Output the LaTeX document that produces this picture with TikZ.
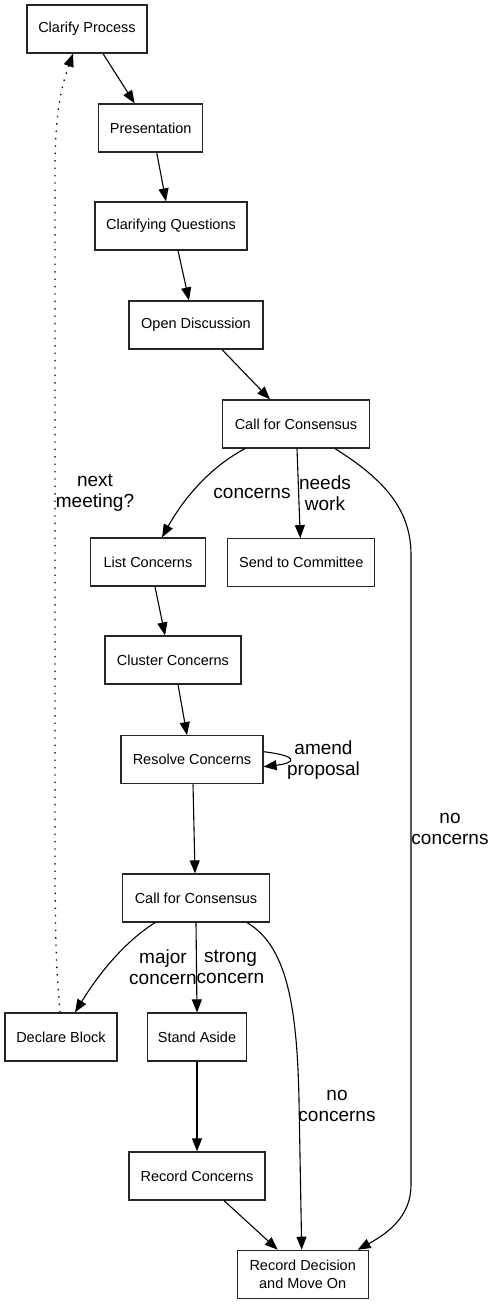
\documentclass[tikz,border=0pt]{standalone}
\usepackage{fontspec}
\setmainfont{Liberation Sans}
\usetikzlibrary{arrows.meta}
\begin{document}
\begin{tikzpicture}[x=1pt,y=-1pt,
  box/.style={draw=black!85,line width=1.2pt,minimum height=48pt,inner sep=2pt,align=center,
    font=\fontsize{14.5}{18.5}\selectfont},
  arr/.style={line width=1.1pt,-{Triangle[length=13pt,width=10pt]}},
  lab/.style={align=center,inner sep=0pt,font=\fontsize{19}{21}\selectfont}]
\useasboundingbox (0,0) rectangle (495,1304);
% nodes
\node[box,minimum width=120pt] (cp) at (87,29) {Clarify Process};
\node[box,minimum width=104pt] (pr) at (150.7,128) {Presentation};
\node[box,minimum width=152pt] (cq) at (171,226) {Clarifying Questions};
\node[box,minimum width=134pt] (od) at (196,325) {Open Discussion};
\node[box,minimum width=147pt] (ca) at (296,424) {Call for Consensus};
\node[box,minimum width=115pt] (lc) at (148,562) {List Concerns};
\node[box,minimum width=147pt] (sc) at (301.3,562.7) {Send to Committee};
\node[box,minimum width=136pt] (cc) at (173,660) {Cluster Concerns};
\node[box,minimum width=142pt] (rs) at (192,759.7) {Resolve Concerns};
\node[box,minimum width=147pt] (cb) at (196,898) {Call for Consensus};
\node[box,minimum width=112pt] (db) at (61,1037) {Declare Block};
\node[box,minimum width=99pt] (sa) at (197,1037) {Stand Aside};
\node[box,minimum width=136pt] (rc) at (197,1176) {Record Concerns};
\node[box,minimum width=131pt] (rd) at (302.7,1274.3) {Record Decision\\and Move On};
% edges
\draw[arr] ([xshift=16pt]cp.south) -- ([xshift=-16pt]pr.north);
\draw[arr] ([xshift=6pt]pr.south) -- ([xshift=-5pt]cq.north);
\draw[arr] ([xshift=7pt]cq.south) -- ([xshift=-7pt]od.north);
\draw[arr] ([xshift=26pt]od.south) -- ([xshift=-26pt]ca.north);
\draw[arr] ([xshift=-51pt]ca.south) .. controls (205,470) and (180,505) .. ([xshift=14pt]lc.north);
\draw[arr] ([xshift=1pt]ca.south) -- ([xshift=-1pt]sc.north);
\draw[arr] ([xshift=39pt]ca.south) .. controls (385,480) and (411,510) .. (411,555) -- (411,1185) .. controls (411,1215) and (390,1232) .. ([xshift=55pt]rd.north);
\draw[arr] ([xshift=7pt]lc.south) -- ([xshift=-8pt]cc.north);
\draw[arr] ([xshift=5pt]cc.south) -- ([xshift=-5pt]rs.north);
\draw[arr] ([yshift=8pt]rs.east) .. controls +(34,4) and +(34,-4) .. ([yshift=-7pt]rs.east);
\draw[arr] ([xshift=1pt]rs.south) -- ([xshift=-1pt]cb.north);
\draw[arr] ([xshift=-41pt]cb.south) .. controls (120,945) and (95,980) .. ([xshift=14pt]db.north);
\draw[arr] (cb.south) -- (sa.north);
\draw[arr] ([xshift=51pt]cb.south) .. controls (285,945) and (297,1000) .. (299,1100) -- ([xshift=-1pt]rd.north);
\draw[arr] (sa.south) -- (rc.north);
\draw[arr] ([xshift=27pt]rc.south) -- ([xshift=-25pt]rd.north);
\draw[line width=1.3pt,dash pattern=on 1.4pt off 6pt,-{Triangle[length=13pt,width=10pt]}]
  ([xshift=-1pt]db.north) .. controls (56,960) .. (55,880) -- (55,170) .. controls (55,110) and (62,85) .. ([xshift=-14pt]cp.south);
% labels
\node[lab] (l1) at (252,493) {concerns};
\node[lab] (l2) at (325,493) {needs\\work};
\node[lab] (l3) at (450,829) {no\\concerns};
\node[lab] (l4) at (323.5,760) {amend\\proposal};
\node[lab] (l5) at (163,967) {major\\concern};
\node[lab] (l6) at (230.5,967) {strong\\concern};
\node[lab] (l7) at (337,1106) {no\\concerns};
\node[lab] (l8) at (95,493) {next\\meeting?};
\end{tikzpicture}
\end{document}
